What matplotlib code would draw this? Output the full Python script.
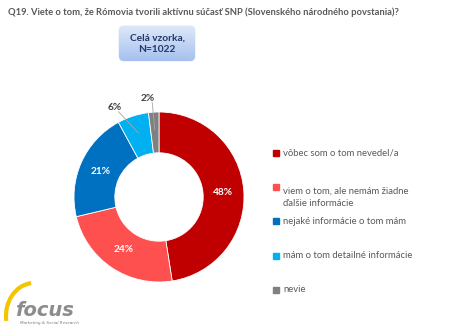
import numpy as np
import matplotlib
matplotlib.use("Agg")
import matplotlib.pyplot as plt
from matplotlib.patches import FancyBboxPatch, Arc

plt.rcParams['font.family'] = ['Lato', 'DejaVu Sans']

# data
categories = ['vôbec som o tom nevedel/a',
              'viem o tom, ale nemám žiadne\nďalšie informácie',
              'nejaké informácie o tom mám',
              'mám o tom detailné informácie',
              'nevie']
values = [48, 24, 21, 6, 2]
colors = ['#C00000', '#FF5050', '#0070C0', '#00B0F0', '#808080']
title = 'Q19. Viete o tom, že Rómovia tvorili aktívnu súčasť SNP (Slovenského národného povstania)?'
sample = 'Celá vzorka,\nN=1022'

W, H = 449, 327
fig = plt.figure(figsize=(W / 100, H / 100), dpi=100)

# pozadie v pixelovych suradniciach
bg = fig.add_axes([0, 0, 1, 1])
bg.set_xlim(0, W)
bg.set_ylim(H, 0)
bg.axis('off')

bg.text(8, 12, title, fontsize=6.75, fontweight='bold', color='#595959', va='center', ha='left')

# box so vzorkou, gradient
box = FancyBboxPatch((119, 26), 76, 35, boxstyle='round,pad=0,rounding_size=5',
                     facecolor='none', edgecolor='#dde6f5', linewidth=0.6)
bg.add_patch(box)
grad = np.linspace(0, 1, 64).reshape(-1, 1)
cmap = matplotlib.colors.LinearSegmentedColormap.from_list('g', ['#a6c1ef', '#dde7f8'])
im = bg.imshow(grad, extent=(119, 195, 26, 61), cmap=cmap, aspect='auto', zorder=1)
im.set_clip_path(box)
bg.set_xlim(0, W)
bg.set_ylim(H, 0)
bg.text(157, 43.5, sample, fontsize=7.3, fontweight='bold', color='#1F3864',
        ha='center', va='center', zorder=3, linespacing=1.35)

# legenda
leg_y = [153, 187, 221, 256, 290]
for lab, c, y in zip(categories, colors, leg_y):
    bg.add_patch(plt.Rectangle((273, y - 3), 6, 6, color=c))
    bg.text(283, y, lab, fontsize=6.8, color='#595959', va='top' if '\n' in lab else 'center',
            ha='left', linespacing=1.45)

# logo
bg.add_patch(Arc((34, 316), 56, 66, theta1=170, theta2=265, color='#F5C400', linewidth=3))
bg.text(15, 310, 'focus', fontsize=14, fontweight='bold', style='italic', color='#8c8c8c',
        ha='left', va='center', family='DejaVu Sans')
bg.text(20, 323, 'Marketing & Social Research', fontsize=3, style='italic', color='#7f7f7f',
        ha='left', va='center', family='DejaVu Sans')

# donut
cx, cy, r = 159, 197, 85
ax = fig.add_axes([(cx - r) / W, (H - cy - r) / H, 2 * r / W, 2 * r / H])
wedges, _ = ax.pie(values, colors=colors, startangle=90, counterclock=False,
                   wedgeprops=dict(width=0.48, edgecolor='white', linewidth=0.6))
ax.set_xlim(-1, 1)
ax.set_ylim(-1, 1)
ax.set_aspect('equal')

for w, v in zip(wedges, values):
    mid = np.deg2rad((w.theta1 + w.theta2) / 2)
    if v >= 10:
        ax.text(0.75 * np.cos(mid), 0.75 * np.sin(mid), f'{v}%', color='white',
                fontsize=7.3, fontweight='bold', ha='center', va='center')
    else:
        shift = np.deg2rad(8 if v > 3 else 3)
        lx, ly = 1.21 * np.cos(mid + shift), 1.17 * np.sin(mid + shift)
        ax.plot([0.79 * np.cos(mid), lx + 0.05 * np.cos(mid) * 0.6 + 0.06],
                [0.79 * np.sin(mid), ly - 0.05], color='#a6a6a6', linewidth=0.6,
                clip_on=False)
        ax.text(lx, ly, f'{v}%', color='#404040', fontsize=7.3, fontweight='bold',
                ha='center', va='center')

fig.savefig('out.png', dpi=100)
